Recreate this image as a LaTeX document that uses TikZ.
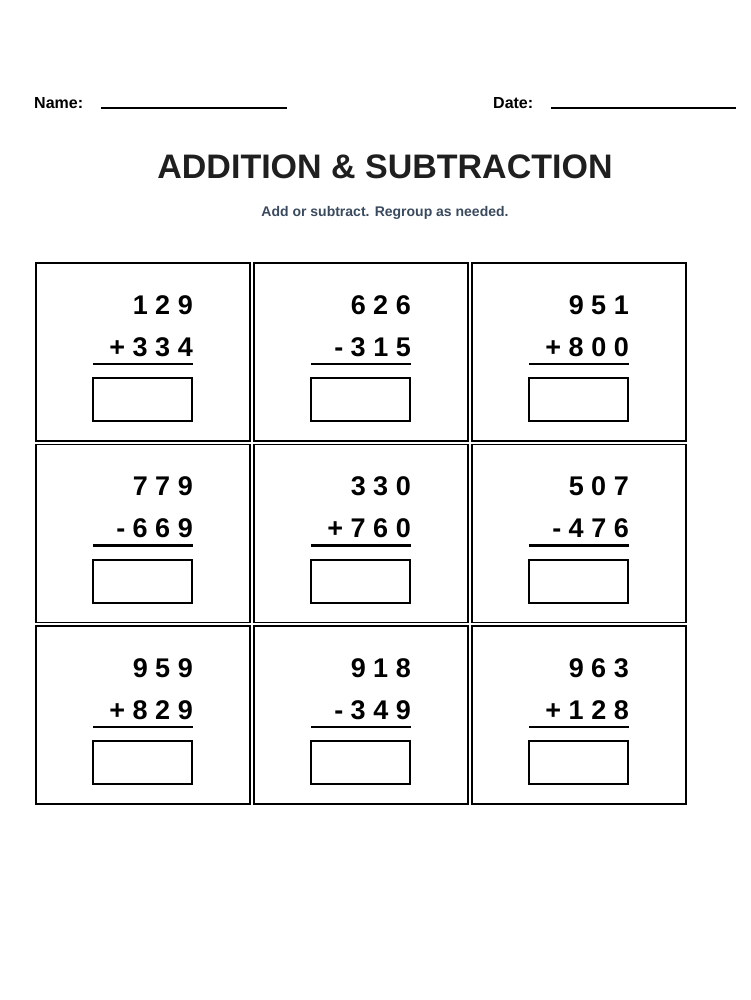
\documentclass[tikz,border=0pt]{standalone}
\usepackage{fontspec}
\setmainfont{Liberation Sans}
\usetikzlibrary{calc}
\definecolor{slate}{HTML}{3A4A5E}
\tikzset{
  cell/.style={draw, line width=1.5pt},
  digits/.style={anchor=base east, inner sep=0pt, font=\bfseries\fontsize{27}{30}\selectfont},
  answer/.style={draw, line width=2pt}
}
\begin{document}
\begin{tikzpicture}[x=1pt,y=-1pt]
        \useasboundingbox (0,0) rectangle (750,1000);
        \node [anchor=base west, inner sep=0pt, font=\bfseries\fontsize{16}{18}\selectfont] (name) at (34,109) {Name:};
        \coordinate (nameL) at (101,108);
        \coordinate (nameR) at (287,108);
        \draw [line width=1.2pt] (nameL) -- (nameR);
        \node [anchor=base west, inner sep=0pt, font=\bfseries\fontsize{16}{18}\selectfont] (date) at (493,109) {Date:};
        \coordinate (dateL) at (551,108);
        \coordinate (dateR) at (736,108);
        \draw [line width=1.2pt] (dateL) -- (dateR);
        \node [inner sep=0pt, anchor=base, font=\bfseries\fontsize{34}{38}\selectfont, text=black!88] (title) at (385,179) {ADDITION \& SUBTRACTION};
        \node [inner sep=0pt, anchor=base, font=\bfseries\fontsize{14}{16}\selectfont, text=slate] (sub) at (385,217) {Add or subtract. Regroup as needed.};

        \foreach \i/\j/\a/\b in {0/0/1 2 9/+ 3 3 4, 1/0/6 2 6/- 3 1 5, 2/0/9 5 1/+ 8 0 0,
                                 0/1/7 7 9/- 6 6 9, 1/1/3 3 0/+ 7 6 0, 2/1/5 0 7/- 4 7 6,
                                 0/2/9 5 9/+ 8 2 9, 1/2/9 1 8/- 3 4 9, 2/2/9 6 3/+ 1 2 8} {
            \coordinate (c\i\j) at ({36+218*\i},{263+181.5*\j});
            \draw [cell] (c\i\j) rectangle ++(214,178);
            \node [digits] (top\i\j) at ($(c\i\j)+(157,51)$) {\a};
            \node [digits] (bot\i\j) at ($(c\i\j)+(157,93)$) {\b};
            \coordinate (barL\i\j) at ($(c\i\j)+(57,101)$);
            \coordinate (barR\i\j) at ($(c\i\j)+(157,101)$);
            \draw [line width=2.5pt] (barL\i\j) -- (barR\i\j);
            \draw [answer] ($(c\i\j)+(57,115)$) rectangle ++(99,43);
        }
    \end{tikzpicture}
\end{document}
